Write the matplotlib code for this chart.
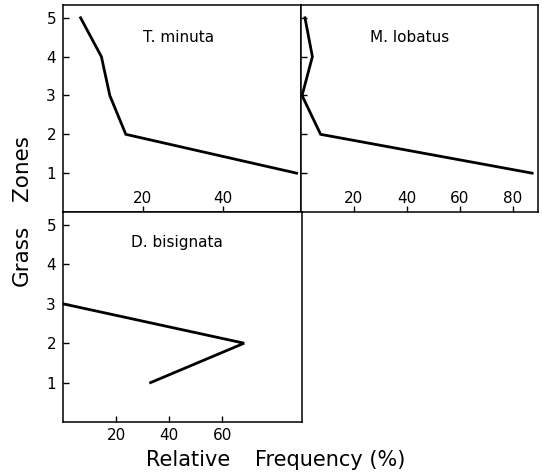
import matplotlib
matplotlib.use("Agg")
import matplotlib.pyplot as plt

plt.rcParams['font.family'] = ['DejaVu Sans']

# Relative frequency (%) of each species across grass zones 1-5
zones = [1, 2, 3, 4, 5]
t_minuta = [58.4, 15.7, 11.7, 9.6, 4.4]
m_lobatus = [87.3, 7.4, 0.4, 4.3, 1.5]

d_zones = [1, 2, 3]
d_bisignata = [33.0, 68.2, 0.0]

zone_ticks = [1, 2, 3, 4, 5]
tm_xticks = [20, 40]
ml_xticks = [20, 40, 60, 80]
db_xticks = [20, 40, 60]

W, H = 542, 473
fig = plt.figure(figsize=(W / 100, H / 100), dpi=100)
fig.patch.set_facecolor('white')


def px_axes(x0, y0, x1, y1):
    """Axes from pixel box (left, top, right, bottom)."""
    return fig.add_axes([x0 / W, 1 - y1 / H, (x1 - x0) / W, (y1 - y0) / H])


def style(ax):
    for s in ax.spines.values():
        s.set_linewidth(1.1)
        s.set_color('black')
    ax.tick_params(direction='in', length=4, width=1, labelsize=11, colors='black')
    ax.set_facecolor('white')


lw = 2.0

# T. minuta
ax1 = px_axes(63, 5, 301, 212)
style(ax1)
ax1.plot(t_minuta, zones, color='black', lw=lw, solid_joinstyle='miter')
ax1.set_xlim(0, 59.5)
ax1.set_ylim(0, 5.33)
ax1.set_xticks(tm_xticks)
ax1.set_yticks(zone_ticks)
ax1.tick_params(axis='x', pad=-15)
ax1.tick_params(axis='y', pad=5)
ax1.text(29, 4.5, 'T. minuta', fontsize=11, ha='center', va='center')

# M. lobatus
ax2 = px_axes(301, 5, 538, 212)
style(ax2)
ax2.plot(m_lobatus, zones, color='black', lw=lw, solid_joinstyle='miter')
ax2.set_xlim(0, 89.5)
ax2.set_ylim(0, 5.33)
ax2.set_xticks(ml_xticks)
ax2.set_yticks(zone_ticks)
ax2.set_yticklabels([])
ax2.tick_params(axis='x', pad=-15)
ax2.text(41, 4.5, 'M. lobatus', fontsize=11, ha='center', va='center')

# D. bisignata
ax3 = px_axes(63, 212, 302, 422)
style(ax3)
ax3.plot(d_bisignata, d_zones, color='black', lw=lw, solid_joinstyle='miter')
ax3.set_xlim(0, 90)
ax3.set_ylim(0, 5.33)
ax3.set_xticks(db_xticks)
ax3.set_yticks(zone_ticks)
ax3.tick_params(axis='x', pad=4)
ax3.tick_params(axis='y', pad=5)
ax3.text(42.8, 4.56, 'D. bisignata', fontsize=11, ha='center', va='center')

# Shared axis labels
fig.text(22 / W, 1 - 168 / H, 'Zones', rotation=90, fontsize=15.5,
         ha='center', va='center')
fig.text(22 / W, 1 - 255 / H, 'Grass', rotation=90, fontsize=15.5,
         ha='center', va='center')
fig.text(188 / W, 1 - 460 / H, 'Relative', fontsize=15, ha='center', va='center')
fig.text(330 / W, 1 - 460 / H, 'Frequency (%)', fontsize=15, ha='center', va='center')

fig.savefig('out.png', dpi=100, facecolor='white')
